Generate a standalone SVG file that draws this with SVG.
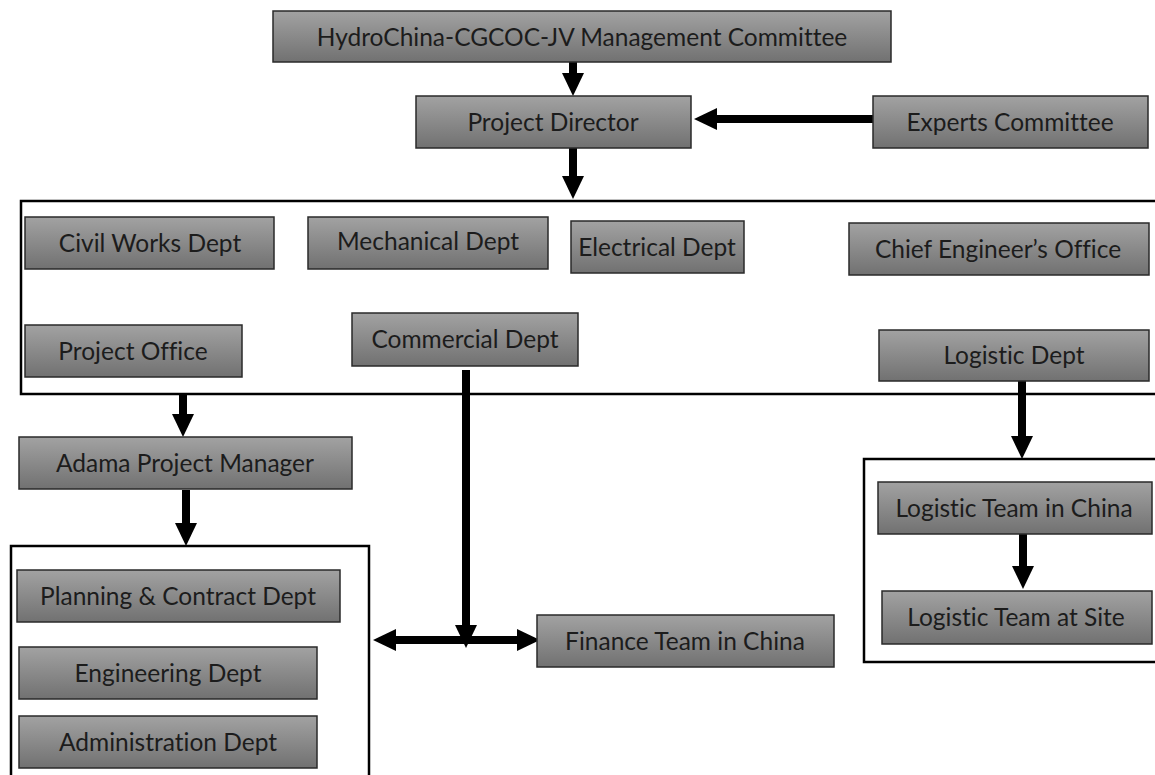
<svg xmlns="http://www.w3.org/2000/svg" width="1155" height="775" viewBox="0 0 1155 775">
<defs>
<linearGradient id="g" x1="0" y1="0" x2="0" y2="1">
<stop offset="0" stop-color="#a2a2a2"/>
<stop offset="1" stop-color="#717171"/>
</linearGradient>
<marker id="ah" markerUnits="userSpaceOnUse" markerWidth="24" markerHeight="24" viewBox="0 0 24 24" refX="2" refY="11" orient="auto-start-reverse">
<path d="M0,0 L23,11 L0,22 z" fill="#000"/>
</marker>
<style>
.box{fill:url(#g);stroke:#2a2a2a;stroke-width:1.5}
.frame{fill:none;stroke:#000;stroke-width:2.5}
.t{font-family:Lato,"Liberation Sans",sans-serif;font-size:24.5px;fill:#1c1c1c;text-anchor:middle;font-variant-ligatures:none}
.c{stroke:#000;stroke-width:8;fill:none}
</style>
</defs>
<rect width="1155" height="775" fill="#fff"/>
<g id="frames">
<rect class="frame" x="21" y="201" width="1150" height="193"/>
<rect class="frame" x="11" y="546" width="358" height="240"/>
<rect class="frame" x="864" y="459" width="300" height="203"/>
</g>
<g id="connectors">
<line class="c" x1="573" y1="62" x2="573" y2="75" marker-end="url(#ah)"/>
<line class="c" x1="873" y1="119" x2="715" y2="119" marker-end="url(#ah)"/>
<line class="c" x1="573" y1="148" x2="573" y2="178" marker-end="url(#ah)"/>
<line class="c" x1="183" y1="394" x2="183" y2="416" marker-end="url(#ah)"/>
<line class="c" x1="186" y1="490" x2="186" y2="525" marker-end="url(#ah)"/>
<line class="c" x1="466" y1="370" x2="466" y2="627" marker-end="url(#ah)"/>
<line class="c" x1="394" y1="640" x2="519" y2="640" marker-start="url(#ah)" marker-end="url(#ah)"/>
<line class="c" x1="1022" y1="381" x2="1022" y2="438" marker-end="url(#ah)"/>
<line class="c" x1="1023" y1="534" x2="1023" y2="568" marker-end="url(#ah)"/>
</g>
<g id="n-committee"><rect class="box" x="273" y="11" width="618" height="51"/><text class="t" x="582" y="46">HydroChina-CGCOC-JV Management Committee</text></g>
<g id="n-director"><rect class="box" x="416" y="96" width="275" height="52"/><text class="t" x="553" y="131">Project Director</text></g>
<g id="n-experts"><rect class="box" x="873" y="96" width="275" height="52"/><text class="t" x="1010" y="131">Experts Committee</text></g>
<g id="n-civil"><rect class="box" x="25" y="217" width="249" height="52"/><text class="t" x="150" y="252">Civil Works Dept</text></g>
<g id="n-mechanical"><rect class="box" x="308" y="217" width="240" height="52"/><text class="t" x="428" y="250">Mechanical Dept</text></g>
<g id="n-electrical"><rect class="box" x="571" y="221" width="173" height="52"/><text class="t" x="657" y="256">Electrical Dept</text></g>
<g id="n-chief"><rect class="box" x="849" y="223" width="300" height="52"/><text class="t" x="998" y="258">Chief Engineer’s Office</text></g>
<g id="n-projoffice"><rect class="box" x="25" y="325" width="217" height="52"/><text class="t" x="133" y="360">Project Office</text></g>
<g id="n-commercial"><rect class="box" x="352" y="313" width="226" height="53"/><text class="t" x="465" y="348">Commercial Dept</text></g>
<g id="n-logistic"><rect class="box" x="879" y="330" width="270" height="51"/><text class="t" x="1014" y="364">Logistic Dept</text></g>
<g id="n-adama"><rect class="box" x="19" y="437" width="333" height="52"/><text class="t" x="185" y="472">Adama Project Manager</text></g>
<g id="n-planning"><rect class="box" x="17" y="570" width="323" height="52"/><text class="t" x="178" y="605">Planning &amp; Contract Dept</text></g>
<g id="n-engineering"><rect class="box" x="19" y="647" width="298" height="52"/><text class="t" x="168" y="682">Engineering Dept</text></g>
<g id="n-admin"><rect class="box" x="19" y="716" width="298" height="52"/><text class="t" x="168" y="751">Administration Dept</text></g>
<g id="n-finance"><rect class="box" x="537" y="615" width="297" height="52"/><text class="t" x="685" y="650">Finance Team in China</text></g>
<g id="n-ltchina"><rect class="box" x="878" y="482" width="274" height="52"/><text class="t" x="1014" y="517">Logistic Team in China</text></g>
<g id="n-ltsite"><rect class="box" x="882" y="591" width="270" height="53"/><text class="t" x="1016" y="626">Logistic Team at Site</text></g>
</svg>
